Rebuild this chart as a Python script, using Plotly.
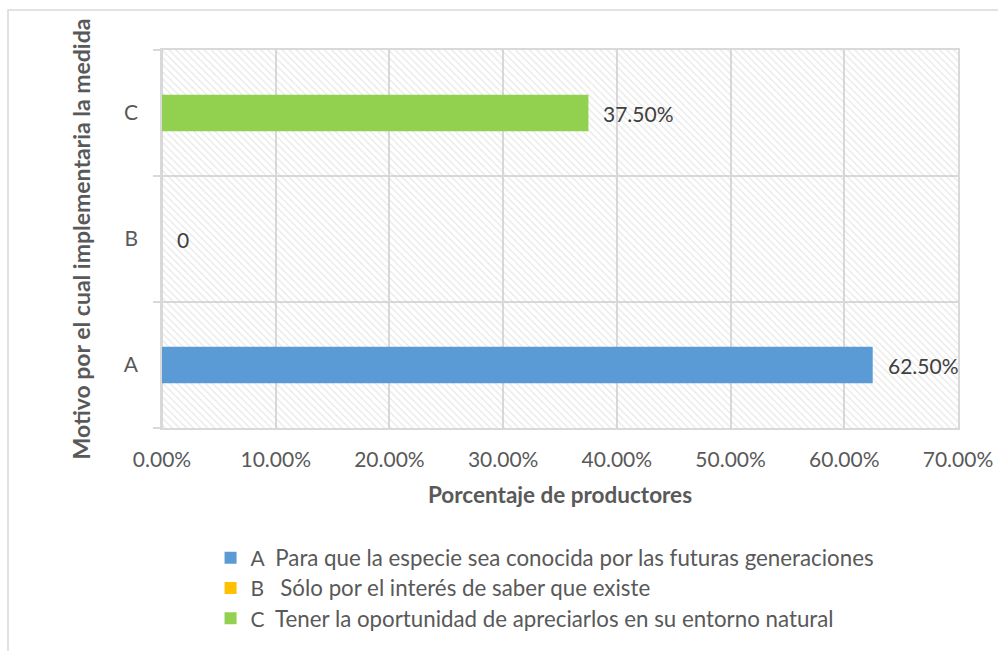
import plotly.graph_objects as go

categories = ["A", "B", "C"]
values = [0.625, 0.0, 0.375]
colors = ["#5B9BD5", "#FFC000", "#92D050"]
descriptions = [
    "Para que la especie sea conocida por las futuras generaciones",
    " Sólo por el interés de saber que existe",
    "Tener la oportunidad de apreciarlos en su entorno natural",
]
x_ticks = [0, 0.1, 0.2, 0.3, 0.4, 0.5, 0.6, 0.7]

FONT = "Lato"
GREY = "#595959"
GRID = "#d9d9d9"

fig = go.Figure()

# hatched plot-area background (drawn as a full-width bar behind the data bars)
fig.add_trace(go.Bar(
    y=[(len(categories) - 1) / 2], x=[x_ticks[-1]], base=0, width=len(categories),
    orientation="h",
    marker=dict(color="rgba(0,0,0,0)", line=dict(width=0),
                pattern=dict(shape="\\", fgcolor="#cccccc", bgcolor="rgba(0,0,0,0)",
                             size=5, solidity=0.22)),
    hoverinfo="skip", showlegend=False,
))

for i, (cat, v, c, d) in enumerate(zip(categories, values, colors, descriptions)):
    fig.add_trace(go.Bar(
        y=[i], x=[v], orientation="h", width=0.29,
        marker=dict(color=c, line=dict(width=0)),
        name=f"{cat}\u2002<span style='font-size:22.3px'>{d}</span>",
    ))
    label = f"{v*100:.2f}%" if v else "0"
    fig.add_annotation(x=v, y=i, text=label, showarrow=False, xanchor="left",
                       xshift=13, font=dict(family=FONT, size=21, color="#404040"))

fig.update_layout(
    width=998, height=651,
    margin=dict(l=162, r=40, t=50, b=223),
    paper_bgcolor="white", plot_bgcolor="white",
    barmode="overlay",
    font=dict(family=FONT, color=GREY),
    legend=dict(
        orientation="v", x=0.061, y=-0.29, xanchor="left", yanchor="top",
        font=dict(family=FONT, size=21, color=GREY),
        itemwidth=30, tracegroupgap=0,
    ),
    xaxis=dict(
        range=[0, 0.7], tickvals=x_ticks, tickformat=".2%", automargin=False,
        showgrid=True, gridcolor=GRID, gridwidth=1.5,
        zeroline=True, zerolinecolor=GRID, zerolinewidth=1.5,
        showline=True, mirror=True, linecolor=GRID, linewidth=1.5,
        ticks="", ticklabelstandoff=12,
        tickfont=dict(family=FONT, size=21, color=GREY),
        title=dict(text="<b>Porcentaje de productores</b>", standoff=17,
                   font=dict(family=FONT, size=22.5, color=GREY)),
    ),
    yaxis=dict(
        range=[-0.5, 2.5], tickvals=[0, 1, 2], ticktext=categories, automargin=False,
        showgrid=False, zeroline=False,
        showline=True, mirror=True, linecolor=GRID, linewidth=1.5,
        ticks="", ticklabelstandoff=18,
        minor=dict(tickvals=[-0.5, 0.5, 1.5, 2.5], ticks="outside", ticklen=7,
                   tickcolor=GRID, tickwidth=1.5, showgrid=True,
                   gridcolor=GRID, gridwidth=1.5),
        tickfont=dict(family=FONT, size=21, color=GREY),
        title=dict(text="<b>Motivo por el cual implementaria la medida</b>",
                   standoff=27, font=dict(family=FONT, size=23, color=GREY)),
    ),
    shapes=[dict(type="rect", xref="paper", yref="paper",
                 x0=(8 - 162) / 796, x1=(1010 - 162) / 796,
                 y0=-(670 - 428) / 378, y1=1 + (50 - 10) / 378,
                 line=dict(color=GRID, width=1.5), layer="below")],
)

fig.write_html("out.html", config={"displayModeBar": False},
               post_script="document.body.style.margin='0';")
